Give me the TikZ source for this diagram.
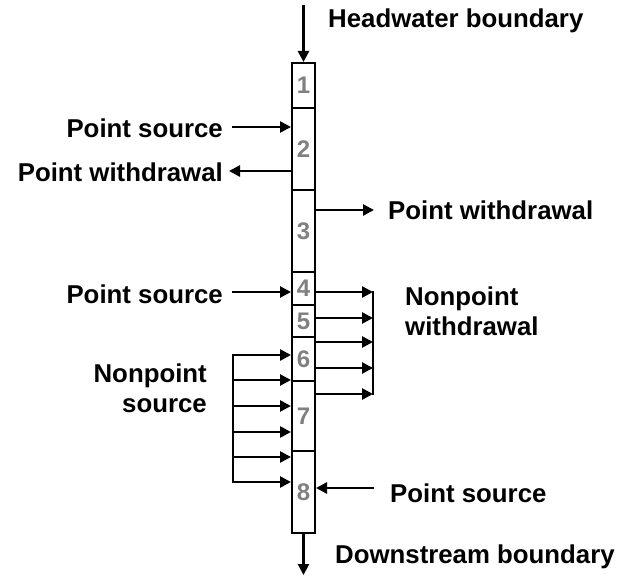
\documentclass[tikz,border=0pt]{standalone}
\usepackage{fontspec}
\setmainfont{Liberation Sans}
\usetikzlibrary{arrows.meta}
\definecolor{digitgray}{RGB}{128,128,128}
\begin{document}
\begin{tikzpicture}[x=1pt,y=-1pt,
  seg/.style={draw=black,line width=2pt,fill=white,rectangle,minimum width=23pt,inner sep=0pt,
    font=\fontsize{24}{24}\selectfont\bfseries,text=digitgray},
  arr/.style={line width=2.6pt,-{Triangle[length=11pt,width=11pt]}},
  bar/.style={line width=2.6pt,line cap=rect},
  lbl/.style={font=\fontsize{25.8}{30}\selectfont\bfseries,inner sep=0pt}]
\useasboundingbox (0,0) rectangle (618,577);
% segments
\node[seg,minimum height=45pt] (b1) at (303.5,85.5) {1};
\node[seg,minimum height=82pt] (b2) at (303.5,149) {2};
\node[seg,minimum height=82pt] (b3) at (303.5,231) {3};
\node[seg,minimum height=33pt] (b4) at (303.5,288.5) {4};
\node[seg,minimum height=32pt] (b5) at (303.5,321) {5};
\node[seg,minimum height=44pt] (b6) at (303.5,359) {6};
\node[seg,minimum height=70pt] (b7) at (303.5,416) {7};
\node[seg,minimum height=82pt] (b8) at (303.5,492) {8};
% boundaries
\coordinate (hw) at (303.5,5);
\coordinate (ds) at (303.5,575);
\draw[arr] (hw) -- (b1.north);
\draw[arr] (b8.south) -- (ds);
\node[lbl,anchor=base west] (thw) at (328,28) {Headwater boundary};
\node[lbl,anchor=base west] (tds) at (335,563) {Downstream boundary};
% point source / withdrawal at segment 2
\coordinate (ps1) at (232,127);
\draw[arr] (ps1) -- (ps1 -| b2.west);
\node[lbl,anchor=base east] (tps1) at (223,138) {Point source};
\coordinate (pw1) at (229,171);
\draw[arr] (pw1 -| b2.west) -- (pw1);
\node[lbl,anchor=base east] (tpw1) at (223,182) {Point withdrawal};
% point withdrawal at segment 3
\coordinate (pw2) at (374,210);
\draw[arr] (pw2 -| b3.east) -- (pw2);
\node[lbl,anchor=base west] (tpw2) at (388,220) {Point withdrawal};
% point source at segment 4
\coordinate (ps2) at (232,292);
\draw[arr] (ps2) -- (ps2 -| b4.west);
\node[lbl,anchor=base east] (tps2) at (223,303) {Point source};
% nonpoint withdrawal
\foreach \i/\y in {1/292,2/318,3/342,4/368,5/394}{
  \coordinate (nw\i) at (373,\y);
  \draw[arr] (nw\i -| b4.east) -- (nw\i);
}
\draw[bar] (nw1) -- (nw5);
\node[lbl,anchor=base west,align=left] (tnw) at (405,335) {Nonpoint\\withdrawal};
% nonpoint source
\foreach \i/\y in {1/355,2/380,3/406,4/432,5/457,6/482}{
  \coordinate (ns\i) at (233,\y);
  \draw[arr] (ns\i) -- (ns\i -| b6.west);
}
\draw[bar] (ns1) -- (ns6);
\node[lbl,anchor=base east,align=right] (tns) at (207,412) {Nonpoint\\source};
% point source at segment 8
\coordinate (ps3) at (374,488);
\draw[arr] (ps3) -- (ps3 -| b8.east);
\node[lbl,anchor=base west] (tps3) at (390,502) {Point source};
\end{tikzpicture}
\end{document}
